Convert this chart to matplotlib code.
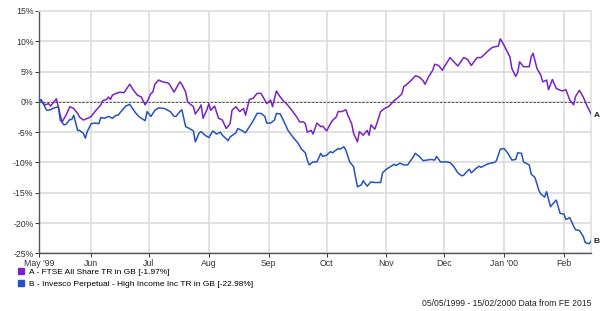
import numpy as np
import matplotlib
matplotlib.use('Agg')
import matplotlib.pyplot as plt
from matplotlib.patches import Patch

plt.rcParams['font.family'] = ['Liberation Sans', 'DejaVu Sans']

start = np.datetime64('1999-05-05')
end = np.datetime64('2000-02-15')

# days since 05/05/1999 and cumulative return (%)
days_a = [0, 1, 3, 5, 6, 7, 9, 10, 11, 12, 14, 16, 18, 20, 21, 23, 26, 27, 29, 32,
          33, 35, 36, 37, 38, 40, 42, 44, 47, 49, 51, 53, 55, 56, 58, 59, 60, 62, 64, 67,
          68, 70, 71, 73, 74, 76, 77, 80, 81, 83, 84, 85, 87, 88, 89, 91, 93, 95, 97, 99,
          100, 102, 104, 106, 107, 109, 111, 113, 115, 117, 118, 120, 121, 123, 125, 127, 128, 131, 134, 135,
          137, 138, 139, 141, 142, 144, 146, 147, 149, 151, 152, 154, 155, 157, 159, 160, 162, 163, 165, 166,
          168, 170, 171, 172, 174, 175, 177, 179, 181, 182, 184, 186, 188, 189, 191, 193, 195, 197, 199, 200,
          202, 204, 205, 207, 209, 210, 213, 215, 217, 220, 222, 224, 227, 229, 233, 235, 238, 239, 241, 244,
          245, 247, 248, 249, 251, 254, 255, 256, 258, 260, 261, 263, 264, 266, 268, 271, 273, 275, 277, 278,
          280, 282, 284, 286]
ftse = [0.0, 0.3, -0.5, -0.3, -0.7, -0.3, 0.5, -0.8, -2.2, -3.3, -2.2, -0.8, -1.1, -1.9, -2.5, -3.0, -2.6, -2.4, -1.6, -0.5,
        0.2, 0.4, 0.8, 0.4, 1.1, 1.4, 1.6, 1.5, 2.9, 1.9, 1.1, 0.8, -0.5, 0.0, 1.4, 1.6, 2.9, 3.6, 3.3, 3.1,
        2.7, 1.6, 2.2, 3.3, 2.9, 1.6, 0.0, -0.8, -2.0, -1.1, -0.5, -2.7, -1.3, -0.3, -1.4, -0.7, -2.7, -3.0, -4.4, -3.6,
        -1.4, -0.8, -1.6, -1.1, -2.2, 0.4, 0.6, 1.4, 1.4, 0.3, -0.3, 0.3, -0.8, 1.8, 0.8, 0.0, -0.2, -1.4, -2.7, -3.3,
        -3.3, -3.6, -5.0, -4.7, -5.3, -3.5, -4.1, -4.0, -4.8, -3.6, -3.1, -2.5, -1.6, -1.6, -1.3, -2.2, -3.6, -5.2, -6.6, -4.9,
        -5.5, -4.7, -5.5, -3.8, -4.5, -3.6, -1.6, -1.1, -0.8, -0.5, 0.2, 0.7, 1.3, 2.5, 3.0, 3.6, 4.3, 4.1, 3.5, 2.9,
        4.2, 5.2, 6.2, 6.0, 5.2, 5.8, 7.3, 6.6, 5.9, 7.3, 7.0, 6.0, 7.3, 7.3, 8.5, 9.0, 9.2, 10.4, 9.3, 7.4,
        5.5, 4.2, 4.8, 6.6, 5.8, 5.8, 7.4, 8.0, 5.5, 4.4, 3.3, 3.6, 2.0, 3.7, 2.2, 1.8, 2.0, 0.3, -0.5, 0.9,
        1.9, 0.8, -0.7, -1.97]

days_b = [0, 1, 3, 4, 6, 7, 10, 11, 13, 14, 16, 17, 18, 20, 21, 23, 24, 25, 27, 29,
          31, 32, 34, 36, 38, 40, 41, 43, 45, 47, 48, 50, 52, 55, 56, 58, 60, 62, 65, 68,
          70, 71, 73, 74, 76, 78, 80, 81, 83, 84, 86, 88, 90, 92, 94, 95, 98, 99, 102, 103,
          105, 107, 109, 111, 113, 115, 117, 118, 120, 122, 123, 125, 127, 129, 132, 134, 136, 138, 139, 140,
          142, 144, 146, 147, 149, 151, 152, 155, 156, 158, 159, 161, 163, 164, 165, 167, 168, 170, 172, 174,
          177, 178, 180, 182, 184, 185, 187, 189, 191, 193, 195, 197, 199, 201, 203, 205, 206, 208, 211, 213,
          215, 217, 219, 220, 222, 223, 224, 226, 228, 229, 232, 234, 236, 237, 239, 241, 243, 245, 247, 248,
          250, 251, 254, 255, 257, 259, 260, 262, 263, 265, 266, 268, 270, 272, 273, 275, 277, 278, 280, 282,
          283, 285, 286]
invesco = [0.0, 0.4, -0.8, -1.4, -1.3, -1.1, -0.8, -3.0, -3.8, -3.7, -2.9, -2.9, -2.2, -4.7, -4.7, -5.2, -6.0, -4.9, -3.6, -3.5,
           -3.6, -2.6, -2.7, -2.4, -2.7, -2.2, -2.2, -1.4, -0.7, -0.4, -0.9, -1.8, -2.5, -3.1, -1.6, -2.4, -1.4, -1.0, -1.1, -1.6,
           -2.4, -2.4, -1.6, -1.3, -4.1, -4.4, -4.8, -6.6, -5.1, -4.9, -5.5, -5.9, -4.8, -5.3, -5.0, -5.5, -6.4, -5.8, -5.1, -4.4,
           -4.7, -5.1, -4.1, -3.1, -1.9, -1.9, -2.4, -3.5, -3.5, -3.0, -1.9, -2.0, -3.3, -4.7, -6.0, -6.7, -7.8, -8.4, -9.6, -10.4,
           -9.9, -9.9, -8.5, -9.0, -8.8, -8.2, -8.4, -7.7, -7.8, -7.4, -8.0, -9.9, -10.7, -12.4, -14.0, -13.7, -13.0, -13.9, -13.2, -13.3,
           -13.3, -11.7, -11.1, -10.7, -10.3, -10.5, -10.1, -10.4, -10.4, -9.5, -8.5, -9.0, -9.7, -9.6, -9.5, -9.6, -9.0, -9.9, -9.9, -10.0,
           -10.7, -11.7, -12.2, -12.1, -11.4, -11.1, -11.7, -11.1, -10.6, -10.8, -10.3, -10.1, -10.0, -9.7, -7.8, -7.7, -8.5, -9.6, -9.5, -8.4,
           -8.5, -9.9, -10.4, -11.9, -12.5, -14.6, -15.2, -15.7, -14.8, -17.3, -16.9, -16.2, -18.4, -18.5, -19.4, -19.1, -20.5, -21.1, -21.2, -22.2,
           -23.2, -23.4, -22.98]

month_ticks = ['1999-05-05', '1999-06-01', '1999-07-01', '1999-08-01', '1999-09-01', '1999-10-01',
               '1999-11-01', '1999-12-01', '2000-01-01', '2000-02-01']
month_labels = ["May '99", 'Jun', 'Jul', 'Aug', 'Sep', 'Oct', 'Nov', 'Dec', "Jan '00", 'Feb']

legend_labels = ['A - FTSE All Share TR in GB [-1.97%]',
                 'B - Invesco Perpetual - High Income Inc TR in GB [-22.98%]']
footer = '05/05/1999 - 15/02/2000 Data from FE 2015'

purple = '#7a22c6'
blue = '#2453c2'

fig = plt.figure(figsize=(6.0, 3.11), dpi=100)
ax = fig.add_axes([0.065, 0.185, 0.92, 0.78])

dates_a = start + np.array(days_a).astype('timedelta64[D]')
dates_b = start + np.array(days_b).astype('timedelta64[D]')

ax.plot(dates_a, ftse, color=purple, lw=1.1, zorder=3)
ax.plot(dates_b, invesco, color=blue, lw=1.1, zorder=3)
ax.axhline(0, color='#555555', lw=0.7, ls=(0, (2.5, 1.5)), zorder=2)

ax.annotate('A', (dates_a[-1], ftse[-1]), xytext=(2, -1), textcoords='offset points',
            fontsize=6, fontweight='bold', va='center', color='#222222')
ax.annotate('B', (dates_b[-1], invesco[-1]), xytext=(2, 0), textcoords='offset points',
            fontsize=6, fontweight='bold', va='center', color='#222222')

ax.set_xlim(start, end)
ax.set_ylim(-25, 15)
ax.set_yticks(np.arange(-25, 16, 5))
ax.set_yticklabels(['%d%%' % v for v in np.arange(-25, 16, 5)])
ax.set_xticks(np.array(month_ticks, dtype='datetime64[D]'))
ax.set_xticklabels(month_labels)

ax.grid(True, color='#dcdcdc', lw=1.2, zorder=0)
ax.set_axisbelow(True)
for s in ['top', 'right']:
    ax.spines[s].set_color('#e0e0e0')
    ax.spines[s].set_linewidth(1.2)
for s in ['left', 'bottom']:
    ax.spines[s].set_color('#555555')
    ax.spines[s].set_linewidth(1.0)
ax.tick_params(axis='both', labelsize=6.3, colors='#333333', length=3, width=0.7, pad=1)

handles = [Patch(color=purple), Patch(color=blue)]
fig.legend(handles, legend_labels, loc='upper left', bbox_to_anchor=(0.024, 0.148),
           frameon=False, fontsize=6, handlelength=0.7, handleheight=0.7,
           handletextpad=0.6, labelspacing=0.5, borderaxespad=0)
fig.text(0.985, 0.01, footer, ha='right', va='bottom', fontsize=6.2, color='#222222')

plt.savefig('out.png', dpi=100)
